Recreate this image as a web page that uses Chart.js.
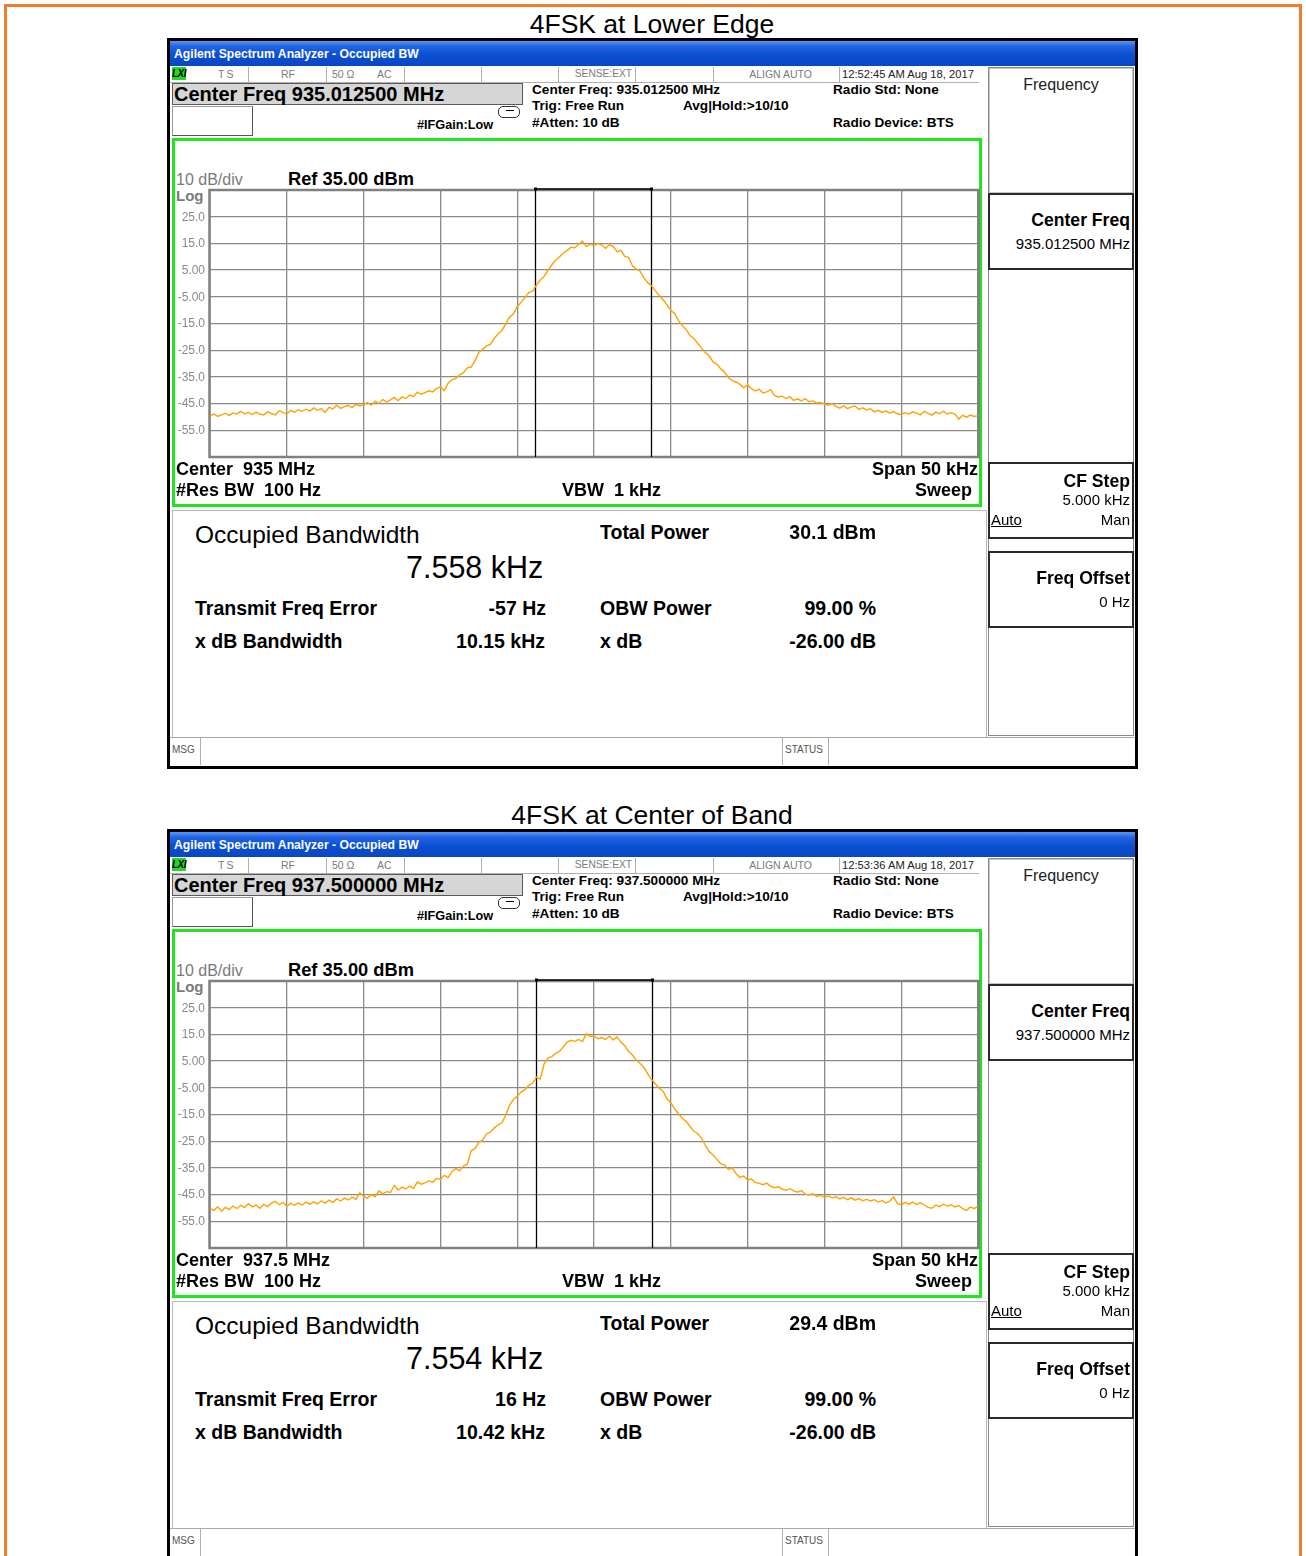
<!DOCTYPE html>
<html><head><meta charset="utf-8">
<script src="https://cdn.jsdelivr.net/npm/chart.js@4.4.0/dist/chart.umd.min.js"></script>
<style>
html,body{margin:0;padding:0;background:#fff;}
body{width:1306px;height:1556px;position:relative;overflow:hidden;font-family:"Liberation Sans",Arial,sans-serif;color:#000;}
.a{position:absolute;white-space:pre;box-sizing:border-box;}
</style></head><body>
<script>
// ---- DATA ----
const panelTitles = ['4FSK at Lower Edge', '4FSK at Center of Band'];
const centerFreqMHz = ['935.012500', '937.500000'];
const centerLabel = ['935 MHz', '937.5 MHz'];
const timeStamps = ['12:52:45 AM Aug 18, 2017', '12:53:36 AM Aug 18, 2017'];
const occupiedBwKHz = ['7.558', '7.554'];
const totalPowerDbm = ['30.1', '29.4'];
const freqErrorHz = [-57, 16];
const xdbBandwidthKHz = ['10.15', '10.42'];
const yTicksDbm = [35, 25, 15, 5, -5, -15, -25, -35, -45, -55, -65];
const yTickLabels = ['', '25.0', '15.0', '5.00', '-5.00', '-15.0', '-25.0', '-35.0', '-45.0', '-55.0', ''];

// frequency offset from centre (kHz), sweep points
const freqOffsetKHz = [
-25,-24.75,-24.5,-24.25,-24,-23.75,-23.5,-23.25,-23,-22.75,-22.5,-22.25,-22,-21.75,-21.5,-21.25,-21,-20.75,-20.5,-20.25,
-20,-19.75,-19.5,-19.25,-19,-18.75,-18.5,-18.25,-18,-17.75,-17.5,-17.25,-17,-16.75,-16.5,-16.25,-16,-15.75,-15.5,-15.25,
-15,-14.75,-14.5,-14.25,-14,-13.75,-13.5,-13.25,-13,-12.75,-12.5,-12.25,-12,-11.75,-11.5,-11.25,-11,-10.75,-10.5,-10.25,
-10,-9.75,-9.5,-9.25,-9,-8.75,-8.5,-8.25,-8,-7.75,-7.5,-7.25,-7,-6.75,-6.5,-6.25,-6,-5.75,-5.5,-5.25,
-5,-4.75,-4.5,-4.25,-4,-3.75,-3.5,-3.25,-3,-2.75,-2.5,-2.25,-2,-1.75,-1.5,-1.25,-1,-0.75,-0.5,-0.25,
0,0.25,0.5,0.75,1,1.25,1.5,1.75,2,2.25,2.5,2.75,3,3.25,3.5,3.75,4,4.25,4.5,4.75,
5,5.25,5.5,5.75,6,6.25,6.5,6.75,7,7.25,7.5,7.75,8,8.25,8.5,8.75,9,9.25,9.5,9.75,
10,10.25,10.5,10.75,11,11.25,11.5,11.75,12,12.25,12.5,12.75,13,13.25,13.5,13.75,14,14.25,14.5,14.75,
15,15.25,15.5,15.75,16,16.25,16.5,16.75,17,17.25,17.5,17.75,18,18.25,18.5,18.75,19,19.25,19.5,19.75,
20,20.25,20.5,20.75,21,21.25,21.5,21.75,22,22.25,22.5,22.75,23,23.25,23.5,23.75,24,24.25,24.5,24.75,25];

// trace (dBm) - lower edge
const traceLowerEdge = [
-49.6,-48.9,-49.8,-49.2,-48.6,-49.4,-48.5,-48.9,-47.9,-48.8,-48.3,-49.1,-48.2,-48.9,-49.3,-48.1,-48.7,-49.2,-47.6,-48.4,
-48.9,-47.5,-48.2,-47.3,-47.9,-47.1,-47.8,-46.6,-47.5,-46.9,-48.3,-46.4,-47.0,-45.6,-46.8,-46.1,-45.7,-46.5,-45.3,-45.9,
-45.5,-44.6,-45.6,-44.1,-45.0,-43.4,-44.4,-43.6,-42.7,-43.9,-42.5,-43.1,-41.8,-42.4,-40.7,-41.5,-40.9,-40.2,-40.6,-39.3,
-38.8,-40.1,-37.4,-36.1,-35.6,-34.2,-33.4,-31.6,-31.3,-29.0,-25.8,-24.7,-23.4,-22.8,-20.6,-18.9,-17.6,-15.2,-12.6,-11.5,
-8.7,-7.1,-5.3,-3.4,-2.9,-0.6,1.3,2.6,4.8,6.9,8.7,9.9,11.4,12.3,13.6,13.4,14.6,15.9,13.8,14.7,
14.1,15.0,14.4,13.2,14.5,13.9,11.9,12.4,10.1,9.8,6.6,5.4,4.6,2.1,0.3,-0.9,-2.8,-4.6,-6.1,-8.0,
-10.1,-11.2,-13.9,-15.8,-17.3,-19.5,-20.6,-22.4,-24.2,-25.9,-27.1,-29.4,-30.2,-32.0,-33.2,-35.3,-36.4,-36.9,-37.8,-39.1,
-37.9,-39.4,-40.3,-39.6,-41.0,-40.6,-39.8,-41.9,-42.5,-42.2,-43.1,-42.4,-43.8,-43.2,-44.0,-43.1,-44.3,-44.0,-44.8,-44.6,
-45.1,-45.6,-45.0,-46.0,-46.7,-45.8,-46.9,-46.2,-45.9,-47.2,-46.6,-47.4,-46.9,-48.1,-47.5,-48.3,-47.7,-48.6,-48.0,-48.8,
-49.1,-48.4,-48.9,-48.1,-48.6,-49.2,-47.9,-48.7,-49.3,-48.2,-48.8,-47.8,-48.9,-48.4,-48.9,-50.8,-49.4,-50.1,-49.3,-49.8,
-49.5];

// trace (dBm) - centre of band
const traceCenterBand = [
-50.1,-50.9,-49.6,-51.2,-49.8,-50.6,-49.3,-50.2,-49.0,-49.9,-48.4,-49.6,-48.9,-50.1,-48.7,-49.5,-48.2,-47.5,-48.8,-47.9,
-49.4,-48.3,-49.0,-48.1,-48.9,-47.8,-48.6,-47.7,-48.5,-47.3,-48.2,-47.1,-47.9,-46.6,-47.4,-46.3,-47.0,-45.9,-46.8,-44.3,
-45.6,-46.4,-44.9,-45.8,-43.6,-44.7,-43.9,-44.2,-41.6,-43.3,-42.2,-42.9,-41.8,-42.6,-40.3,-41.1,-40.6,-39.8,-40.4,-38.9,
-39.3,-37.8,-38.6,-36.4,-35.2,-36.1,-34.3,-33.6,-28.6,-27.8,-25.4,-24.6,-22.3,-21.6,-20.1,-18.9,-18.2,-15.3,-11.6,-9.4,
-8.2,-6.6,-5.7,-4.1,-3.3,-0.9,-1.8,3.9,6.1,6.7,7.9,8.6,10.3,12.1,12.8,12.4,13.1,12.3,15.3,14.2,
14.4,13.4,13.8,13.1,14.3,13.0,14.0,12.1,10.8,8.6,7.3,5.4,4.1,2.6,0.2,-1.9,-3.6,-5.2,-6.3,-9.1,
-10.6,-12.9,-14.7,-16.4,-17.6,-19.4,-21.3,-22.1,-23.9,-26.6,-28.9,-30.2,-31.8,-33.4,-33.9,-35.6,-35.0,-37.2,-38.6,-38.1,
-39.5,-39.2,-40.4,-40.8,-41.3,-40.7,-41.9,-42.4,-42.1,-42.9,-43.4,-42.8,-43.6,-44.1,-43.5,-44.8,-45.2,-44.6,-45.7,-45.3,
-46.1,-45.5,-46.3,-45.8,-46.6,-46.0,-46.9,-46.2,-47.1,-46.5,-47.3,-46.8,-47.4,-46.9,-47.8,-47.2,-48.1,-47.5,-45.9,-48.3,
-48.9,-47.9,-48.6,-47.8,-48.7,-48.1,-48.9,-49.8,-50.1,-48.9,-49.5,-48.6,-49.3,-48.8,-49.6,-49.1,-50.3,-50.9,-49.7,-50.2,
-49.4];
const traces = [traceLowerEdge, traceCenterBand];

// ---- LAYOUT HELPERS ----
const W = 1306;
function box(x, y, w, h, css) {
  const d = document.createElement('div'); d.className = 'a';
  d.style.cssText = `left:${x}px;top:${y}px;width:${w}px;height:${h}px;` + (css || '');
  document.body.appendChild(d); return d;
}
function txt(x, yc, s, css, align) {
  const d = document.createElement('div'); d.className = 'a'; d.textContent = s;
  const lh = 30;
  let pos = align === 'right' ? `right:${W - x}px;text-align:right;` :
            align === 'center' ? `left:${x - 400}px;width:800px;text-align:center;` : `left:${x}px;`;
  d.style.cssText = pos + `top:${yc - lh / 2}px;line-height:${lh}px;height:${lh}px;` + (css || '');
  document.body.appendChild(d); return d;
}

const obwPlugin = {
  id: 'obwMarkers',
  beforeDatasetsDraw(chart, args, o) {
    const { ctx, chartArea: a, scales: { x, y } } = chart;
    ctx.save();
    // y tick labels, placed with the library's y scale
    ctx.fillStyle = '#8a8a8a'; ctx.font = '12px "Liberation Sans", Arial, sans-serif';
    ctx.textAlign = 'right'; ctx.textBaseline = 'middle';
    yTicksDbm.forEach((v, i) => { if (yTickLabels[i]) ctx.fillText(yTickLabels[i], a.left - 5, y.getPixelForValue(v) + 0.5); });
    // graticule frame
    ctx.strokeStyle = '#808080'; ctx.lineWidth = 2.5;
    ctx.strokeRect(a.left - 0.5, a.top, a.right - a.left + 1, a.bottom - a.top);
    // OBW markers
    const xl = Math.round(x.getPixelForValue(o.lo)) + 0.5, xh = Math.round(x.getPixelForValue(o.hi)) + 0.5;
    ctx.strokeStyle = '#000'; ctx.lineWidth = 1.3;
    ctx.beginPath();
    ctx.moveTo(xl, a.top - 1); ctx.lineTo(xl, a.bottom);
    ctx.moveTo(xh, a.top - 1); ctx.lineTo(xh, a.bottom);
    ctx.moveTo(xl, a.top - 1); ctx.lineTo(xh, a.top - 1);
    ctx.stroke();
    ctx.fillStyle = '#000';
    ctx.fillRect(xl - 1.5, a.top - 2.5, 3, 3); ctx.fillRect(xh - 1.5, a.top - 2.5, 3, 3);
    ctx.restore();
  }
};

function makeChart(canvas, values, lo, hi) {
  return new Chart(canvas, {
    type: 'line',
    data: { labels: freqOffsetKHz, datasets: [{ data: values, borderColor: '#FFA200', borderWidth: 1.4, pointRadius: 0, tension: 0, fill: false }] },
    options: {
      responsive: true, maintainAspectRatio: false, animation: false, devicePixelRatio: 1,
      layout: { padding: { top: 4, right: 3, bottom: 3, left: 0 } },
      plugins: { legend: { display: false }, tooltip: { enabled: false }, obwMarkers: { lo: lo, hi: hi } },
      scales: {
        x: { type: 'linear', min: -25, max: 25,
             ticks: { display: false, stepSize: 5 },
             grid: { color: '#8a8a8a', lineWidth: 1.3, drawTicks: false }, border: { display: false },
             afterFit: s => { s.height = 0; } },
        y: { min: yTicksDbm[yTicksDbm.length - 1], max: yTicksDbm[0],
             afterBuildTicks: s => { s.ticks = yTicksDbm.map(v => ({ value: v })); },
             ticks: { display: false },
             grid: { color: '#8a8a8a', lineWidth: 1.3, drawTicks: false }, border: { display: false },
             afterFit: s => { s.width = 38; } }
      }
    },
    plugins: [obwPlugin]
  });
}

// ---- PAGE ----
box(4, 4, 1298, 1600, 'border:3px solid #ED7D31;');

function panel(k, dy) {
  txt(652, 24 + dy, panelTitles[k], 'font-size:26.5px;', 'center');
  box(167, 38 + dy, 971, 731, 'border:3px solid #000;background:#fff;');
  box(170, 41 + dy, 965, 25, 'background:linear-gradient(#5a95f5 0%,#2263e2 22%,#0b50d4 55%,#0a46c2 100%);');
  txt(174, 54 + dy, 'Agilent Spectrum Analyzer - Occupied BW', 'font-size:12.2px;font-weight:bold;color:#fff;');
  // status row
  box(170, 66 + dy, 809, 17, 'border-bottom:1px solid #b0b0b0;');
  box(172, 67 + dy, 14, 13, 'background:#22d822;');
  txt(172, 74 + dy, 'LXI', 'font-size:10px;font-weight:bold;font-style:italic;letter-spacing:-0.5px;');
  [248, 326, 404, 481, 558, 635, 713, 839].forEach(x => box(x, 67 + dy, 1, 15, 'background:#b0b0b0;'));
  const sc = 'font-size:10.5px;color:#7a7a7a;';
  txt(218, 74 + dy, 'TS', sc + 'letter-spacing:2px;');
  txt(281, 74 + dy, 'RF', sc);
  txt(332, 74 + dy, '50 Ω', sc);
  txt(377, 74 + dy, 'AC', sc);
  txt(632, 74 + dy, 'SENSE:EXT', 'font-size:10.2px;color:#7a7a7a;', 'right');
  txt(812, 74 + dy, 'ALIGN AUTO', sc, 'right');
  txt(842, 74 + dy, timeStamps[k], 'font-size:11.2px;color:#222;');
  // centre freq box
  box(172, 83 + dy, 351, 22, 'background:#d6d6d6;border:1px solid #5a5a5a;');
  txt(174, 94 + dy, 'Center Freq ' + centerFreqMHz[k] + ' MHz', 'font-size:20px;font-weight:bold;');
  box(172, 106 + dy, 81, 30, 'border:1px solid #9a9a9a;border-right-color:#555;border-bottom-color:#555;');
  txt(417, 125 + dy, '#IFGain:Low', 'font-size:12.7px;font-weight:bold;');
  box(498, 106 + dy, 22, 12, 'border:1.5px solid #333;border-radius:5px;');
  box(506, 110 + dy, 8, 5, 'border-top:1.5px solid #000;');
  const ic = 'font-size:13.6px;font-weight:bold;';
  txt(532, 90 + dy, 'Center Freq: ' + centerFreqMHz[k] + ' MHz', ic);
  txt(532, 106 + dy, 'Trig: Free Run', ic);
  txt(683, 106 + dy, 'Avg|Hold:>10/10', ic);
  txt(532, 123 + dy, '#Atten: 10 dB', ic);
  txt(833, 90 + dy, 'Radio Std: None', ic);
  txt(833, 123 + dy, 'Radio Device: BTS', ic);
  // green graticule frame
  box(172, 138 + dy, 810, 369, 'border:3px solid #1ee61e;');
  txt(176, 180 + dy, '10 dB/div', 'font-size:16px;color:#7a7a7a;');
  txt(288, 179 + dy, 'Ref 35.00 dBm', 'font-size:18.3px;font-weight:bold;');
  txt(176, 196 + dy, 'Log', 'font-size:15px;font-weight:bold;color:#7a7a7a;');
  const holder = box(172, 186 + dy, 809, 274, '');
  const cv = document.createElement('canvas'); holder.appendChild(cv);
  const ob = parseFloat(occupiedBwKHz[k]), err = freqErrorHz[k] / 1000;
  makeChart(cv, traces[k], err - ob / 2, err + ob / 2);
  const bl = 'font-size:18px;font-weight:bold;';
  txt(176, 469 + dy, 'Center  ' + centerLabel[k], bl);
  txt(176, 490 + dy, '#Res BW  100 Hz', bl);
  txt(562, 490 + dy, 'VBW  1 kHz', bl);
  txt(978, 469 + dy, 'Span 50 kHz', bl, 'right');
  txt(972, 490 + dy, 'Sweep', bl, 'right');
  // results
  box(172, 510 + dy, 815, 228, 'border:1px solid #b8b8b8;');
  const rb = 'font-size:19.5px;font-weight:bold;';
  txt(195, 535 + dy, 'Occupied Bandwidth', 'font-size:24.5px;');
  txt(406, 567 + dy, occupiedBwKHz[k] + ' kHz', 'font-size:30.5px;');
  txt(600, 532 + dy, 'Total Power', rb);
  txt(876, 532 + dy, totalPowerDbm[k] + ' dBm', rb, 'right');
  txt(195, 608 + dy, 'Transmit Freq Error', rb);
  txt(546, 608 + dy, freqErrorHz[k] + ' Hz', rb, 'right');
  txt(600, 608 + dy, 'OBW Power', rb);
  txt(876, 608 + dy, '99.00 %', rb, 'right');
  txt(195, 641 + dy, 'x dB Bandwidth', rb);
  txt(545, 641 + dy, xdbBandwidthKHz[k] + ' kHz', rb, 'right');
  txt(600, 641 + dy, 'x dB', rb);
  txt(876, 641 + dy, '-26.00 dB', rb, 'right');
  // softkeys
  box(988, 67 + dy, 146, 669, 'border:1px solid #8a8a8a;');
  box(989, 68 + dy, 144, 125, 'border:1px solid #c4c4c4;');
  txt(1061, 85 + dy, 'Frequency', 'font-size:16px;color:#222;', 'center');
  const sk = 'border:2px solid #2a2a2a;';
  box(988, 193 + dy, 146, 77, sk);
  box(988, 462 + dy, 146, 77, sk);
  box(988, 551 + dy, 146, 77, sk);
  const kb = 'font-size:17.6px;font-weight:bold;', kr = 'font-size:15px;';
  txt(1130, 220 + dy, 'Center Freq', kb, 'right');
  txt(1130, 244 + dy, centerFreqMHz[k] + ' MHz', kr, 'right');
  txt(1130, 481 + dy, 'CF Step', kb, 'right');
  txt(1130, 500 + dy, '5.000 kHz', kr, 'right');
  txt(991, 520 + dy, 'Auto', kr + 'text-decoration:underline;');
  txt(1130, 520 + dy, 'Man', kr, 'right');
  txt(1130, 578 + dy, 'Freq Offset', kb, 'right');
  txt(1130, 602 + dy, '0 Hz', kr, 'right');
  // message bar
  box(170, 737 + dy, 965, 29, 'border-top:1px solid #a8a8a8;');
  [200, 782, 828].forEach(x => box(x, 738 + dy, 1, 27, 'background:#b0b0b0;'));
  txt(172, 750 + dy, 'MSG', 'font-size:10px;color:#555;');
  txt(785, 750 + dy, 'STATUS', 'font-size:10px;color:#555;');
}
panel(0, 0);
panel(1, 791);
</script>
</body></html>
